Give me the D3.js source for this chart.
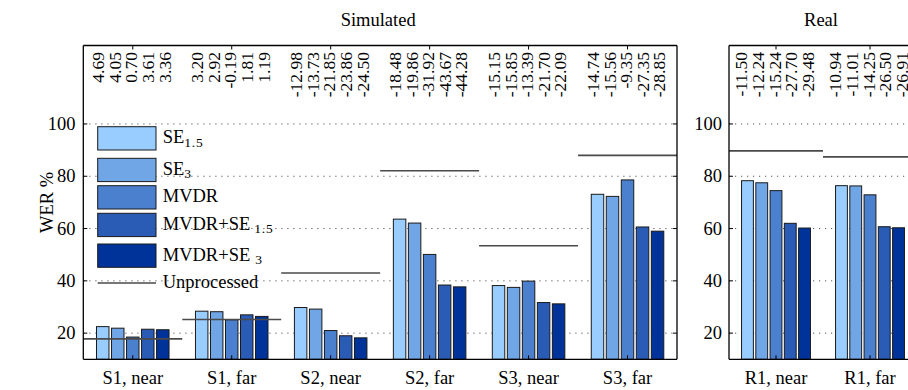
<!DOCTYPE html>
<html>
<head>
<meta charset="utf-8">
<script src="https://cdn.jsdelivr.net/npm/d3@7"></script>
<style>
  html, body { margin: 0; padding: 0; background: #fff; }
  svg { display: block; }
</style>
</head>
<body>
<svg id="chart" width="908" height="390"></svg>
<script>
// ---------- data ----------
const simCategories = ["S1, near", "S1, far", "S2, near", "S2, far", "S3, near", "S3, far"];
const realCategories = ["R1, near", "R1, far"];
const seriesNames = ["SE1.5", "SE3", "MVDR", "MVDR+SE1.5", "MVDR+SE3"];

// WER % per category, one array per series (sim categories then real categories)
const se15     = [22.5, 28.4, 29.8, 63.6, 38.2, 73.1, 78.3, 76.4];
const se3      = [21.9, 28.2, 29.2, 62.1, 37.5, 72.3, 77.5, 76.3];
const mvdr     = [18.5, 25.1, 21.0, 50.1, 39.9, 78.6, 74.5, 72.9];
const mvdrSe15 = [21.5, 27.0, 19.0, 38.4, 31.7, 60.6, 62.0, 60.7];
const mvdrSe3  = [21.3, 26.4, 18.2, 37.7, 31.2, 59.0, 60.2, 60.3];
const unprocessed = [17.8, 25.2, 43.0, 82.1, 53.4, 88.0, 89.7, 87.4];

// relative change labels printed at the top (per category, per series)
const topLabels = [
  ["4.69", "4.05", "0.70", "3.61", "3.36"],
  ["3.20", "2.92", "-0.19", "1.81", "1.19"],
  ["-12.98", "-13.73", "-21.85", "-23.86", "-24.50"],
  ["-18.48", "-19.86", "-31.92", "-43.67", "-44.28"],
  ["-15.15", "-15.85", "-13.39", "-21.70", "-22.09"],
  ["-14.74", "-15.56", "-9.35", "-27.35", "-28.85"],
  ["-11.50", "-12.24", "-15.24", "-27.70", "-29.48"],
  ["-10.94", "-11.01", "-14.25", "-26.50", "-26.91"]
];
const yTicks = [20, 40, 60, 80, 100];
const panelTitles = ["Simulated", "Real"];

// ---------- styling ----------
const colors = ["#99ccff", "#70a6e6", "#4b80cf", "#2a5cb6", "#00339a"];
const FS = 18.5;
const FONT = "'Liberation Serif', Tinos, 'Times New Roman', Times, 'DejaVu Serif', serif";

const seriesValues = [se15, se3, mvdr, mvdrSe15, mvdrSe3];
const allCats = simCategories.concat(realCategories);
const rows = allCats.map((c, i) => ({
  cat: c, idx: i,
  values: seriesNames.map((s, j) => ({ series: s, j, v: seriesValues[j][i] })),
  unproc: unprocessed[i],
  labels: topLabels[i]
}));

const svg = d3.select("#chart").attr("font-family", FONT).style("font-family", FONT);
const plotTop = 45.5, plotBottom = 359.3;
const y = d3.scaleLinear().domain([10, 130]).range([plotBottom, plotTop]);

const panels = [
  { title: panelTitles[0], cats: simCategories, x0: 83.3, x1: 677, rightBorder: true, labelX: 75.5 },
  { title: panelTitles[1], cats: realCategories, x0: 729, x1: 917, rightBorder: false, labelX: 722 }
];

function txt(sel) { return sel.style("font-family", FONT).attr("fill", "#000"); }

panels.forEach(p => {
  const x = d3.scaleBand().domain(p.cats).range([p.x0, p.x1]);
  const inner = d3.scaleBand().domain(seriesNames).range([0, x.bandwidth()])
    .paddingInner(0.17).paddingOuter(0.88);
  const g = svg.append("g");
  const data = rows.filter(r => p.cats.includes(r.cat));

  // grid (dotted)
  g.selectAll(".grid").data(yTicks).join("line")
    .attr("x1", p.x0).attr("x2", p.x1)
    .attr("y1", d => y(d)).attr("y2", d => y(d))
    .attr("stroke", "#555").attr("stroke-width", 1)
    .attr("stroke-dasharray", "1.2,4.8");

  // bars
  const grp = g.selectAll(".grp").data(data).join("g")
    .attr("transform", d => `translate(${x(d.cat)},0)`);
  grp.selectAll("rect").data(d => d.values).join("rect")
    .attr("x", d => inner(d.series))
    .attr("width", inner.bandwidth())
    .attr("y", d => y(d.v))
    .attr("height", d => plotBottom - y(d.v))
    .attr("fill", d => colors[d.j])
    .attr("stroke", "#1a1a1a").attr("stroke-width", 1);

  // unprocessed lines
  grp.append("line")
    .attr("x1", 0).attr("x2", x.bandwidth())
    .attr("y1", d => y(d.unproc)).attr("y2", d => y(d.unproc))
    .attr("stroke", "#4a4a4a").attr("stroke-width", 1.6);

  // top labels (rotated)
  grp.selectAll(".tl").data(d => d.labels).join("text")
    .attr("transform", (d, i) => `translate(${x.bandwidth() / 2 - 1.5 + (i - 2) * 16.6},52) rotate(-90)`)
    .attr("text-anchor", "end")
    .attr("dy", "0.35em")
    .style("font-size", "17.5px")
    .call(txt)
    .text(d => d);

  // frame
  g.append("line").attr("x1", p.x0).attr("x2", p.x0).attr("y1", plotTop).attr("y2", plotBottom)
    .attr("stroke", "#000").attr("stroke-width", 1.3);
  g.append("line").attr("x1", p.x0).attr("x2", p.x1).attr("y1", plotTop).attr("y2", plotTop)
    .attr("stroke", "#000").attr("stroke-width", 1.3);
  g.append("line").attr("x1", p.x0).attr("x2", p.x1).attr("y1", plotBottom).attr("y2", plotBottom)
    .attr("stroke", "#000").attr("stroke-width", 1.3);
  if (p.rightBorder) {
    g.append("line").attr("x1", p.x1).attr("x2", p.x1).attr("y1", plotTop).attr("y2", plotBottom)
      .attr("stroke", "#000").attr("stroke-width", 1.3);
    g.selectAll(".rt").data(yTicks).join("line")
      .attr("x1", p.x1 - 4).attr("x2", p.x1)
      .attr("y1", d => y(d)).attr("y2", d => y(d))
      .attr("stroke", "#000").attr("stroke-width", 1);
  }

  // y ticks (inward) + labels
  g.selectAll(".lt").data(yTicks).join("line")
    .attr("x1", p.x0).attr("x2", p.x0 + 4)
    .attr("y1", d => y(d)).attr("y2", d => y(d))
    .attr("stroke", "#000").attr("stroke-width", 1);
  g.selectAll(".yl").data(yTicks).join("text")
    .attr("x", p.labelX).attr("y", d => y(d))
    .attr("dy", "0.33em").attr("text-anchor", "end")
    .style("font-size", FS + "px")
    .call(txt)
    .text(d => d);

  // x ticks (inward top and bottom) + category labels
  g.selectAll(".bt").data(p.cats).join("line")
    .attr("x1", d => x(d) + x.bandwidth() / 2).attr("x2", d => x(d) + x.bandwidth() / 2)
    .attr("y1", plotBottom - 4).attr("y2", plotBottom)
    .attr("stroke", "#000").attr("stroke-width", 1);
  g.selectAll(".tt").data(p.cats).join("line")
    .attr("x1", d => x(d) + x.bandwidth() / 2).attr("x2", d => x(d) + x.bandwidth() / 2)
    .attr("y1", plotTop).attr("y2", plotTop + 4)
    .attr("stroke", "#000").attr("stroke-width", 1);
  g.selectAll(".xl").data(p.cats).join("text")
    .attr("x", d => x(d) + x.bandwidth() / 2).attr("y", 384)
    .attr("text-anchor", "middle")
    .style("font-size", FS + "px")
    .call(txt)
    .text(d => d);

  // panel title
  g.append("text").attr("x", (p.x0 + p.x1) / 2 - 2).attr("y", 26)
    .attr("text-anchor", "middle").style("font-size", FS + "px")
    .call(txt)
    .text(p.title);
});

// y-axis title
svg.append("text")
  .attr("transform", `translate(47,${(plotTop + plotBottom) / 2}) rotate(-90)`)
  .attr("text-anchor", "middle").attr("dy", "0.35em")
  .style("font-size", FS + "px")
  .call(txt)
  .text("WER %");

// ---------- legend ----------
const legendTops = [126.7, 158.3, 185.7, 213.3, 244];
const legendLabels = [
  { main: "SE", sub: "1.5", gap: 0 },
  { main: "SE", sub: "3", gap: 0 },
  { main: "MVDR", sub: "", gap: 0 },
  { main: "MVDR+SE", sub: "1.5", gap: 4 },
  { main: "MVDR+SE", sub: "3", gap: 5 }
];
const lg = svg.append("g");
const lx = 97.7, lw = 58.3, lh = 23.3;
seriesNames.forEach((s, i) => {
  lg.append("rect").attr("x", lx).attr("y", legendTops[i]).attr("width", lw).attr("height", lh)
    .attr("fill", colors[i]).attr("stroke", "#1a1a1a").attr("stroke-width", 1);
  const t = lg.append("text").attr("x", 162.7).attr("y", legendTops[i] + lh / 2 + 5)
    .style("font-size", FS + "px").call(txt);
  t.append("tspan").text(legendLabels[i].main);
  if (legendLabels[i].sub) {
    t.append("tspan").attr("dx", legendLabels[i].gap).attr("dy", 3.5)
      .style("font-size", "13.5px").style("letter-spacing", "0.8px")
      .text(legendLabels[i].sub);
  }
});
lg.append("line").attr("x1", lx).attr("x2", lx + lw).attr("y1", 283).attr("y2", 283)
  .attr("stroke", "#4a4a4a").attr("stroke-width", 1.6);
lg.append("text").attr("x", 162.7).attr("y", 288.3).style("font-size", FS + "px").call(txt).text("Unprocessed");
</script>
</body>
</html>
